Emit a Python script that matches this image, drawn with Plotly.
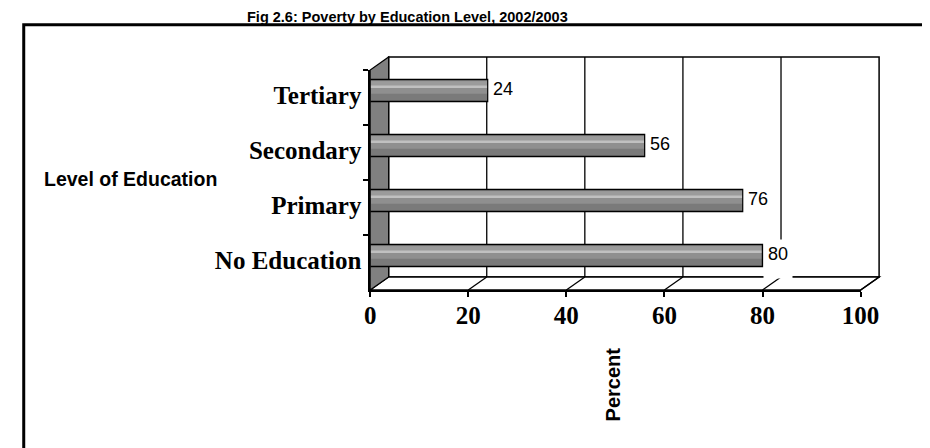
import plotly.graph_objects as go

# ---------------- data ----------------
categories = ["No Education", "Primary", "Secondary", "Tertiary"]
poverty_pct = [80, 76, 56, 24]
x_tick_vals = [0, 20, 40, 60, 80, 100]
title_text = "Fig 2.6: Poverty by Education Level, 2002/2003"
y_title = "Level of Education"
x_title = "Percent"

# ---------------- geometry (pixels) ----------------
W, H = 930, 448
FX0, FX1 = 366.0, 870.0      # front plane: value 0 and 100
FY_TOP, FY_BOT = 62.0, 282.0  # front plane top / floor
DX, DY = 19.0, -13.0          # 3-D depth offset
XMAX = 100.0


def px(x):
    return x / W


def py(y):
    return 1 - y / H


def fx(v):
    return FX0 + (FX1 - FX0) * v / XMAX


def pth(points):
    return "M " + " L ".join(f"{px(x):.5f},{py(y):.5f}" for x, y in points) + " Z"


serif = "Liberation Serif, Times New Roman, serif"
sans = "Liberation Sans, Arial, sans-serif"

fig = go.Figure()

# bar shading layers (cylinder look)
BAR_W = 0.40
BAR_OFF = -0.073
layers = [
    dict(color="#8f8f8f", offset=BAR_OFF, width=BAR_W),
    dict(color="#7a7a7a", offset=BAR_OFF, width=0.14),
    dict(color="#9b9b9b", offset=BAR_OFF + 0.27, width=0.10),
    dict(color="#c0c0c0", offset=BAR_OFF + 0.262, width=0.028),
]
for L in layers:
    fig.add_trace(go.Bar(
        x=poverty_pct, y=categories, orientation="h",
        offset=L["offset"], width=L["width"],
        marker=dict(color=L["color"], line=dict(width=0)),
        hoverinfo="skip", showlegend=False,
    ))
# outline
fig.add_trace(go.Bar(
    x=poverty_pct, y=categories, orientation="h",
    offset=BAR_OFF, width=BAR_W,
    marker=dict(color="rgba(0,0,0,0)", line=dict(color="black", width=1.5)),
    hoverinfo="skip", showlegend=False,
))

shapes = []
# frame
shapes.append(dict(type="rect", xref="paper", yref="paper",
                   x0=px(10), y0=py(16.8), x1=px(1000), y1=py(520),
                   line=dict(color="black", width=3), fillcolor="white", layer="below"))
# back wall
shapes.append(dict(type="path", xref="paper", yref="paper",
                   path=pth([(FX0 + DX, FY_TOP + DY), (FX1 + DX, FY_TOP + DY),
                             (FX1 + DX, FY_BOT + DY), (FX0 + DX, FY_BOT + DY)]),
                   line=dict(color="black", width=1.5), fillcolor="white", layer="below"))
# floor
shapes.append(dict(type="path", xref="paper", yref="paper",
                   path=pth([(FX0, FY_BOT), (FX0 + DX, FY_BOT + DY),
                             (FX1 + DX, FY_BOT + DY), (FX1, FY_BOT)]),
                   line=dict(color="black", width=1.5), fillcolor="white", layer="below"))
# left wall
shapes.append(dict(type="path", xref="paper", yref="paper",
                   path=pth([(FX0, FY_BOT), (FX0 + DX, FY_BOT + DY),
                             (FX0 + DX, FY_TOP + DY), (FX0, FY_TOP)]),
                   line=dict(color="black", width=1.2), fillcolor="#808080", layer="below"))
# gridlines on back wall and floor
for v in x_tick_vals[1:-1]:
    x = fx(v)
    shapes.append(dict(type="line", xref="paper", yref="paper",
                       x0=px(x + DX), y0=py(FY_TOP + DY), x1=px(x + DX), y1=py(FY_BOT + DY),
                       line=dict(color="black", width=1.3), layer="below"))
for v in x_tick_vals[1:]:
    x = fx(v)
    shapes.append(dict(type="line", xref="paper", yref="paper",
                       x0=px(x), y0=py(FY_BOT), x1=px(x + DX), y1=py(FY_BOT + DY),
                       line=dict(color="black", width=1.3), layer="below"))

annotations = []
# title at the very top
annotations.append(dict(text=title_text, xref="paper", yref="paper",
                        x=px(404), y=1.0, xanchor="center", yanchor="top",
                        showarrow=False, borderpad=0,
                        font=dict(family=sans, size=14.5, color="black", weight="bold")))
annotations.append(dict(text=y_title, xref="paper", yref="paper",
                        x=px(29), y=py(171), xanchor="left", yanchor="middle",
                        showarrow=False,
                        font=dict(family=sans, size=19.5, color="black", weight="bold")))
annotations.append(dict(text=x_title, xref="paper", yref="paper",
                        x=px(616), y=py(376), xanchor="center", yanchor="middle", textangle=-90,
                        showarrow=False,
                        font=dict(family=sans, size=20, color="black", weight="bold")))
# data labels (white label boxes, as in the original)
for c, v in zip(categories, poverty_pct):
    annotations.append(dict(text=str(v), xref="x", yref="y", x=v, y=c,
                            xanchor="left", yanchor="middle", yshift=4,
                            height=30, valign="top", borderpad=4,
                            bgcolor="white", showarrow=False,
                            font=dict(family=sans, size=18, color="black")))

fig.update_layout(
    width=W, height=H, margin=dict(l=0, r=0, t=0, b=0),
    paper_bgcolor="white", plot_bgcolor="rgba(0,0,0,0)",
    barmode="overlay", showlegend=False,
    shapes=shapes, annotations=annotations,
    xaxis=dict(domain=[px(FX0), px(FX1)], range=[0, XMAX],
               tickvals=x_tick_vals, ticks="outside", ticklen=5, tickwidth=1.5, tickcolor="black",
               showline=True, linecolor="black", linewidth=1.5,
               showgrid=False, zeroline=False, fixedrange=True,
               ticklabelstandoff=-3,
               tickfont=dict(family=serif, size=25, color="black", weight="bold")),
    yaxis=dict(domain=[py(FY_BOT), py(FY_TOP)], range=[-0.5, 3.5],
               type="category", categoryorder="array", categoryarray=categories,
               ticks="outside", tickson="boundaries", ticklen=5, tickwidth=1.5, tickcolor="black",
               showline=True, linecolor="black", linewidth=1.5,
               showgrid=False, zeroline=False, fixedrange=True,
               ticklabelshift=-2, ticklabelstandoff=2,
               tickfont=dict(family=serif, size=25, color="black", weight="bold")),
)

fig.write_html("out.html")
